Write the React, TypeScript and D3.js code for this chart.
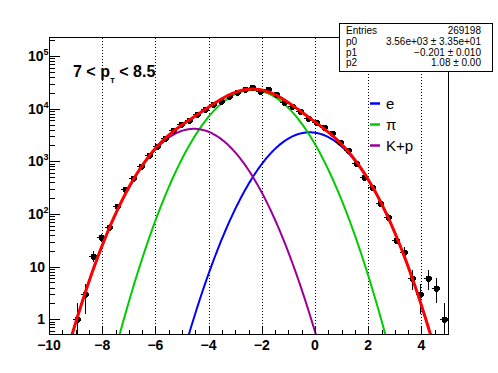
import React from "react";
import * as d3 from "d3";

// histogram bins (centres) and counts
const binCenters = [
  -8.95, -8.65, -8.35, -8.05, -7.75, -7.45, -7.15, -6.85, -6.55, -6.25,
  -5.95, -5.65, -5.35, -5.05, -4.75, -4.45, -4.15, -3.85, -3.55, -3.25,
  -2.95, -2.65, -2.35, -2.05, -1.75, -1.45, -1.15, -0.85, -0.55, -0.25,
  0.05, 0.35, 0.65, 0.95, 1.25, 1.55, 1.85, 2.15, 2.45, 2.75,
  3.05, 3.35, 3.65, 3.95, 4.25, 4.55, 4.85,
];
const counts = [
  1, 3, 16, 36, 56, 144, 298, 476, 826, 1318,
  1954, 2735, 3936, 5180, 6095, 7925, 9730, 12250, 13970, 17400,
  20460, 23340, 26120, 21930, 23600, 18750, 13550, 11230, 9140, 6730,
  5500, 4425, 3405, 2328, 1641, 917, 510, 325, 160, 89,
  32, 19, 6, 3, 6, 4, 1,
];
const binHalfWidth = 0.15;

// fitted gaussian components
const compNames = ["e", "π", "K+p"];
const compColors = ["#0000ff", "#00cc00", "#990099"];
const compAmp = [3560, 22600, 4150];
const compMean = [-0.201, -2.35, -4.55];
const compSigma = [1.08, 1.08, 1.08];

const xTicks = [-10, -8, -6, -4, -2, 0, 2, 4];
const yTicks = [1, 10, 100, 1000, 10000, 100000];

const statsLabels = ["Entries", "p0", "p1", "p2"];
const statsValues = ["269198", "3.56e+03 ± 3.35e+01", "\u22120.201 ± 0.010", "1.08 ± 0.00"];

const W = 498;
const H = 373;
const font = "'Liberation Sans', Arial, Helvetica, sans-serif";

function gaus(i: number, x: number) {
  const t = (x - compMean[i]) / compSigma[i];
  return compAmp[i] * Math.exp(-0.5 * t * t);
}

const px = (v: number) => Math.round(v) + 0.5;

export default function App() {
  const frame = { left: 49, right: 448, top: 37.5, bottom: 334.5 };

  const x = d3.scaleLinear().domain([-10, 5]).range([frame.left, frame.right]);
  const y = d3.scaleLog().domain([0.514, 2.25e5]).range([frame.bottom, frame.top]);
  const yMin = y.domain()[0];

  const samples = d3.range(-10, 5.0001, 0.05);
  const line = d3
    .line<[number, number]>()
    .x((d) => x(d[0]))
    .y((d) => y(Math.max(d[1], yMin * 0.5)));

  const compPaths = compNames.map((_, i) =>
    line(samples.map((s) => [s, gaus(i, s)] as [number, number]))
  );
  const totalPath = line(
    samples.map((s) => [s, compNames.reduce((acc, _, i) => acc + gaus(i, s), 0)] as [number, number])
  );

  const xMinor = d3.range(-10, 5.001, 0.5).filter((v) => !xTicks.includes(v));
  const yMinor: number[] = [];
  for (let e = -1; e <= 5; e++) {
    for (let m = 2; m <= 9; m++) {
      const v = m * Math.pow(10, e);
      if (v > yMin && v < y.domain()[1]) yMinor.push(v);
    }
  }

  const fmtX = (v: number) => (v < 0 ? "\u2212" + Math.abs(v) : String(v));

  return (
    <div style={{ position: "absolute", left: 0, top: 0 }}>
      <svg width={W} height={H} style={{ display: "block", background: "#fff" }} fontFamily={font}>
        <defs>
          <clipPath id="frameClip">
            <rect x={frame.left} y={frame.top} width={frame.right - frame.left} height={frame.bottom - frame.top} />
          </clipPath>
        </defs>

        {/* grid */}
        {xTicks
          .filter((v) => v !== -10)
          .map((v) => (
            <line key={"g" + v} x1={px(x(v))} x2={px(x(v))} y1={frame.top} y2={frame.bottom}
              stroke="#000" strokeWidth={1} strokeDasharray="1 2" shapeRendering="crispEdges" />
          ))}

        {/* components */}
        <g clipPath="url(#frameClip)">
          {compPaths.map((p, i) => (
            <path key={"c" + i} d={p ?? ""} fill="none" stroke={compColors[i]} strokeWidth={2} />
          ))}
        </g>

        {/* data points */}
        <g clipPath="url(#frameClip)" stroke="#000" strokeWidth={1} shapeRendering="crispEdges">
          {binCenters.map((c, i) => {
            const n = counts[i];
            const err = Math.sqrt(n);
            const lo = Math.max(n - err, yMin * 0.5);
            const cx = px(x(c));
            const cy = px(y(n));
            return (
              <g key={"p" + i}>
                <line x1={cx} x2={cx} y1={y(lo)} y2={y(n + err)} />
                <line x1={x(c - binHalfWidth)} x2={x(c + binHalfWidth)} y1={cy} y2={cy} />
                <rect x={cx - 3} y={cy - 3} width={6} height={6} rx={1.5} fill="#000" stroke="none" />
              </g>
            );
          })}
        </g>

        {/* total fit */}
        <g clipPath="url(#frameClip)">
          <path d={totalPath ?? ""} fill="none" stroke="#ff0000" strokeWidth={3} />
        </g>

        {/* frame */}
        <rect x={frame.left + 0.5} y={frame.top} width={frame.right - frame.left} height={frame.bottom - frame.top}
          fill="none" stroke="#000" strokeWidth={1} shapeRendering="crispEdges" />

        {/* x axis ticks */}
        {xTicks.map((v) => (
          <g key={"xt" + v}>
            <line x1={px(x(v))} x2={px(x(v))} y1={frame.bottom} y2={frame.bottom - 9} stroke="#000" shapeRendering="crispEdges" />
            <text x={x(v)} y={350} textAnchor="middle" fontSize={14} fontWeight="bold">{fmtX(v)}</text>
          </g>
        ))}
        {xMinor.map((v) => (
          <line key={"xm" + v} x1={px(x(v))} x2={px(x(v))} y1={frame.bottom} y2={frame.bottom - 5} stroke="#000" shapeRendering="crispEdges" />
        ))}

        {/* y axis ticks */}
        {yTicks.map((v) => {
          const e = Math.round(Math.log10(v));
          return (
            <g key={"yt" + v}>
              <line x1={frame.left} x2={frame.left + 11} y1={px(y(v))} y2={px(y(v))} stroke="#000" shapeRendering="crispEdges" />
              {e <= 1 ? (
                <text x={45} y={y(v)} dy="0.36em" textAnchor="end" fontSize={14} fontWeight="bold">{String(v)}</text>
              ) : (
                <text x={28} y={y(v)} dy="0.36em" fontSize={14} fontWeight="bold">
                  10
                  <tspan dy={-6} fontSize={9}>{e}</tspan>
                </text>
              )}
            </g>
          );
        })}
        {yMinor.map((v, i) => (
          <line key={"ym" + i} x1={frame.left} x2={frame.left + 6} y1={px(y(v))} y2={px(y(v))} stroke="#000" shapeRendering="crispEdges" />
        ))}

        {/* title */}
        <text x={73} y={76.5} fontSize={16} fontWeight="bold" style={{ whiteSpace: "pre" }}>
          {"7 < p"}
          <tspan dy={6} fontSize={8}>T</tspan>
          <tspan dy={-6}>{" < 8.5"}</tspan>
        </text>

        {/* legend */}
        {compNames.map((name, i) => (
          <g key={"l" + i} transform={`translate(370, ${103.5 + i * 21})`}>
            <line x1={0} x2={10} y1={0} y2={0} stroke={compColors[i]} strokeWidth={2.5} />
            <text x={16} y={0} dy="0.36em" fontSize={15}>{name}</text>
          </g>
        ))}

        {/* stats box */}
        <rect x={339.5} y={23.5} width={153} height={48} fill="#fff" stroke="#000" strokeWidth={1} shapeRendering="crispEdges" />
        {statsLabels.map((lab, i) => (
          <g key={"s" + i}>
            <text x={346} y={34.3 + i * 10.6} fontSize={10}>{lab}</text>
            <text x={481} y={34.3 + i * 10.6} fontSize={10} textAnchor="end">{statsValues[i]}</text>
          </g>
        ))}
      </svg>
    </div>
  );
}
